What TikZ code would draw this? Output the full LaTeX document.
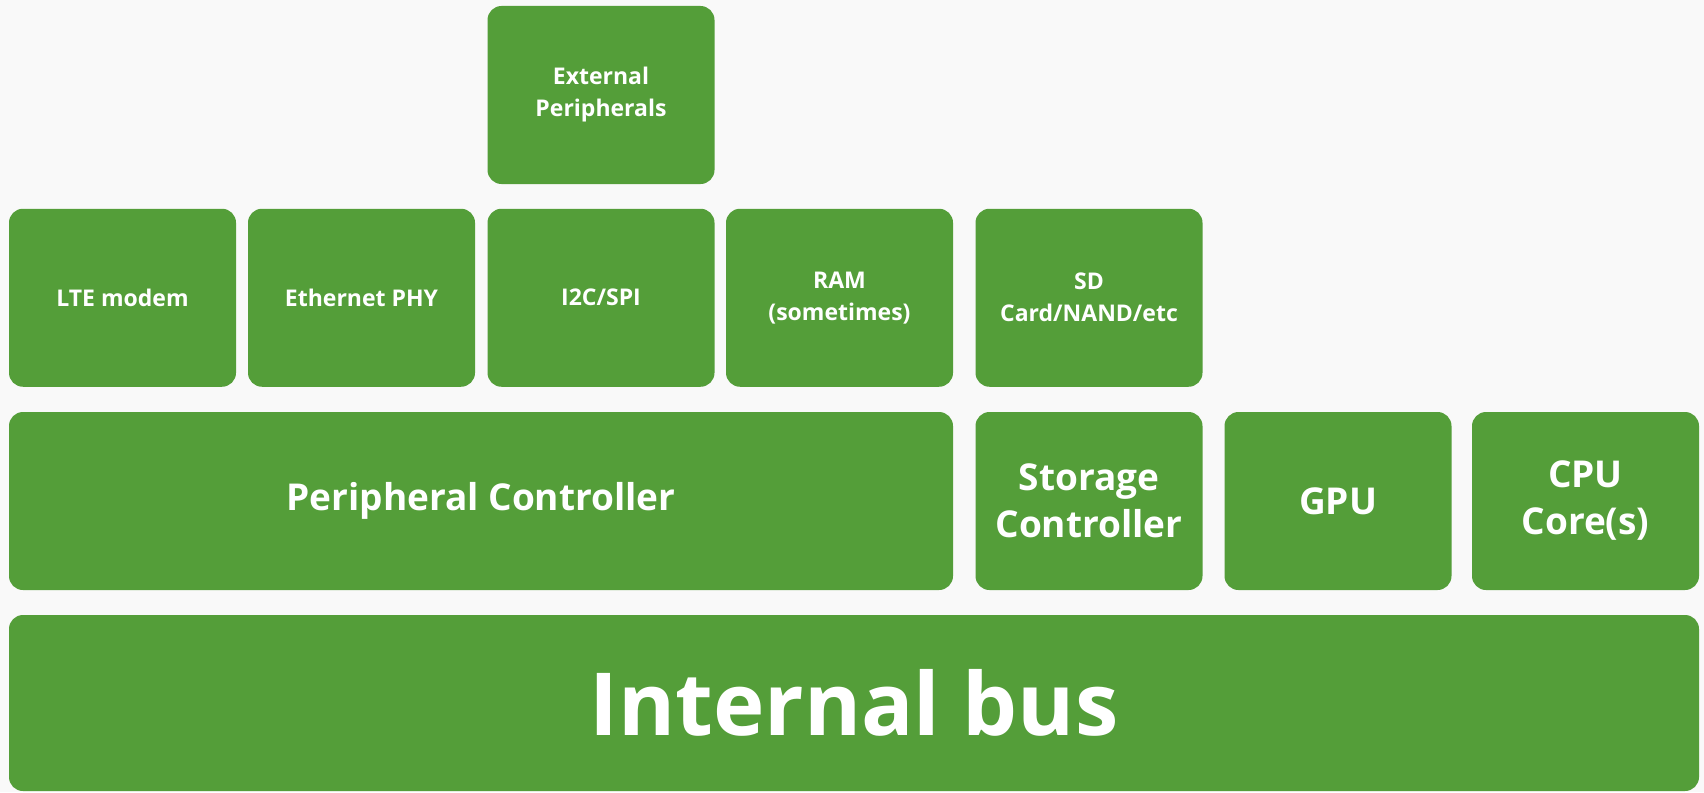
\documentclass[tikz,border=0pt]{standalone}
\usepackage{fontspec}
\setmainfont{Open Sans}
\usepackage{tikz}
\usetikzlibrary{positioning}

\definecolor{boxgreen}{HTML}{549E39}
\definecolor{pagebg}{HTML}{F9F9F9}

\newcommand{\smalltxt}{\fontsize{23}{32}\selectfont\bfseries}
\newcommand{\midtxt}{\fontsize{37}{47}\selectfont\bfseries}
\newcommand{\bigtxt}{\fontsize{87}{100}\selectfont\bfseries}

\tikzset{
  blk/.style={fill=boxgreen, rounded corners=14pt, text=white, inner sep=0pt,
    minimum width=227pt, minimum height=178pt, align=center, font=\smalltxt},
  midblk/.style={blk, font=\midtxt},
}

\begin{document}
\begin{tikzpicture}[x=1pt,y=-1pt]
        \fill[pagebg] (0,0) rectangle (1704,792);
        % top row
        \node[blk] (ext) at (601,95) {External\\Peripherals};
        % peripherals and memory
        \node[blk] (lte) at (122.5,297.75) {LTE modem};
        \node[blk] (eth) at (361.5,297.75) {Ethernet PHY};
        \node[blk] (i2c) at (601,297.75) {I2C/SPI};
        \node[blk] (ram) at (839.5,297.75) {RAM\\(sometimes)};
        \node[blk] (sd) at (1089,297.75) {SD\\Card/NAND/etc};
        % controllers and cores
        \node[midblk, minimum width=944pt] (pctrl) at (481,501) {Peripheral Controller};
        \node[midblk] (sctrl) at (1089,501) {Storage\\Controller};
        \node[midblk] (gpu) at (1338,501) {GPU};
        \node[midblk] (cpu) at (1585.5,501) {CPU\\Core(s)};
        % bus
        \node[blk, minimum width=1690pt, minimum height=176pt, font=\bigtxt] (bus) at (854,703) {Internal bus};
\end{tikzpicture}
\end{document}
